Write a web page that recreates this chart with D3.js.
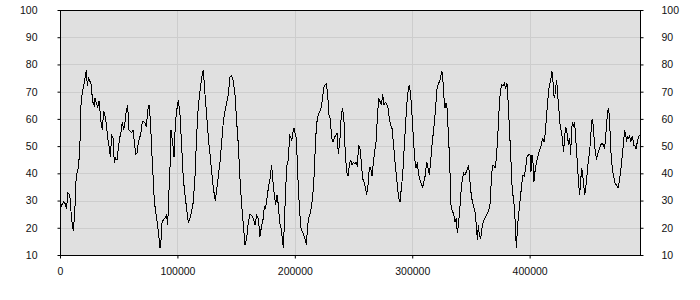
<!DOCTYPE html>
<html>
<head>
<meta charset="utf-8">
<script src="https://cdn.jsdelivr.net/npm/d3@7"></script>
<style>
  body { margin: 0; background: #fff; }
  svg text { font-family: "Liberation Sans", Arial, sans-serif; font-size: 10.5px; fill: #111; }
</style>
</head>
<body>
<div id="chart"></div>
<script>
// sample positions (x) and values (y)
const xs = [
  0, 1420, 2840, 4260, 5680, 6530, 7670, 8520, 9370, 10500, 11360, 11920, 12780, 13340, 14480,
  15610, 16750, 17320, 17890, 19020, 20160, 21290, 22430, 23280, 24130, 25270, 26400, 26970, 28110,
  29240, 29810, 30940, 32080, 33220, 34070, 34920, 36050, 37190, 38330, 39460, 40600, 41730, 42870,
  44000, 45140, 46280, 47410, 48550, 49680, 50820, 51950, 53090, 54230, 55360, 56500, 57630, 58770,
  59900, 61040, 62170, 63310, 64450, 65580, 66720, 67850, 68990, 70120, 71260, 72390, 73530, 74660,
  75800, 76940, 78070, 79210, 80340, 82330, 83750, 85170, 86020, 86870, 88010, 89430, 90850, 91700,
  92550, 93690, 94540, 95390, 96530, 97100, 98230, 99370, 100790, 102200, 103620, 105040, 106460,
  107880, 109300, 110720, 112140, 113560, 114980, 116400, 117820, 119240, 120660, 122080, 123500,
  124920, 126340, 127760, 129180, 130600, 132300, 133440, 134860, 136270, 137690, 139110, 140530,
  141950, 143370, 144790, 146210, 147630, 149050, 150470, 151890, 153310, 154730, 156150, 157560,
  158980, 160400, 161820, 163240, 164660, 166080, 167500, 168920, 170340, 171760, 173180, 174030,
  175170, 176300, 177440, 178860, 180280, 181410, 182550, 183680, 184820, 185960, 187090, 188230,
  189360, 190220, 191070, 192200, 193340, 194480, 195610, 196460, 197310, 198450, 199300, 200150,
  201290, 202140, 202990, 204130, 205260, 206400, 207540, 208670, 209810, 210940, 212080, 213220,
  214350, 215490, 216620, 217760, 218890, 220030, 221170, 222300, 223440, 224570, 225710, 226840,
  227980, 229110, 230250, 231390, 232520, 233660, 234790, 235930, 237060, 238340, 239610, 240750,
  241880, 243020, 244160, 245290, 246430, 247560, 248700, 249840, 250970, 252110, 253240, 254380,
  255510, 256650, 257790, 258920, 260060, 261190, 262330, 263460, 264600, 265740, 266870, 268010,
  269140, 270280, 271410, 272550, 273690, 274820, 275960, 277090, 278230, 279370, 280500, 281640,
  282770, 283910, 285050, 286180, 287320, 288450, 289590, 290720, 291860, 293000, 294130, 295270,
  296400, 297540, 298680, 299810, 300950, 302080, 303220, 304350, 305490, 306630, 307760, 308900,
  310030, 311170, 312300, 313440, 314580, 315710, 316850, 317980, 319120, 320240, 321090, 322230,
  323370, 324500, 325350, 326200, 327060, 327910, 328760, 329610, 330740, 331880, 333020, 334150,
  335290, 336420, 337560, 338410, 339270, 340400, 341540, 342670, 343810, 344940, 346080, 347220,
  348070, 348920, 350050, 351190, 352330, 353460, 354600, 355450, 356300, 357150, 358280, 359420,
  360550, 361970, 363390, 364810, 366230, 367650, 368500, 369350, 370490, 371620, 372760, 373890,
  375030, 376170, 377300, 378440, 379570, 380710, 381850, 382980, 384120, 385250, 386390, 387530,
  388660, 389800, 390930, 392070, 393210, 394340, 395480, 396610, 397750, 398880, 400300, 401150,
  402000, 402860, 403710, 404560, 405410, 406550, 407690, 408820, 409960, 411090, 412230, 413360,
  414500, 415640, 416770, 417910, 419040, 419610, 420460, 421310, 422160, 423020, 423870, 424720,
  425570, 426420, 427270, 428120, 428970, 429830, 430680, 431530, 432380, 433230, 434080, 434930,
  435780, 436640, 437490, 438340, 439190, 440040, 440890, 441740, 442590, 443450, 444300, 445150,
  446000, 446850, 447700, 448550, 449400, 450260, 451110, 451960, 452810, 453660, 454510, 455360,
  456210, 457070, 458200, 459340, 460470, 461610, 462750, 463880, 465020, 466150, 467010, 467860,
  468710, 469560, 470410, 471260, 472120, 472970, 474100, 475240, 476380, 477510, 478650, 479780,
  480920, 481770, 482630, 483480, 484330, 485180, 486030, 486880, 487730, 488590, 489720, 490570,
  491710, 492840, 494000
];
const ys = [
  30, 28, 29.5, 29, 27, 33, 32.5, 31, 26, 21, 19, 22, 28, 36, 40,
  42, 48, 55, 65, 70, 72, 75, 78, 72, 75, 74, 73, 70, 66,
  65, 67.5, 66, 64, 66.5, 63, 59, 56, 63, 61, 58, 53, 50, 46,
  54, 53, 44, 45.5, 45, 49, 53, 55, 59, 56, 59, 63, 65, 56,
  55.5, 55, 56, 51.5, 47, 47.5, 51.5, 53, 55, 59, 59, 58.5, 57, 63,
  65, 60, 49, 39.5, 29.6, 23.5, 18.6, 12.5, 15.5, 21.6, 23, 23.5, 24.7, 21,
  30.8, 42, 56, 53, 49, 46, 58, 63, 67, 61.5, 50, 38, 32,
  27, 21.7, 23.5, 26, 29.6, 39, 54, 65, 70, 75, 78, 69,
  61.5, 53, 47, 40.6, 34.5, 30, 34, 39, 44, 51.5, 59, 63,
  66, 69, 75.5, 76, 73.7, 69, 59, 50.4, 38, 28.4, 21, 13.7,
  16, 22, 25, 24.5, 23.5, 21, 24.7, 23.5, 16.8, 21, 23.5, 27.8,
  27.2, 31, 34.5, 38, 43, 37, 32, 28.4, 32, 28.4, 22, 19.8,
  16, 12.5, 21, 34.5, 43, 45, 54, 53.5, 52, 55, 56.5, 55,
  53, 44, 34.5, 26, 19.8, 18.6, 17.4, 16, 13.7, 21, 24, 25.3,
  28.4, 33, 40.6, 53, 59, 61.5, 62.7, 64, 67, 71.3, 72.5, 73,
  68.8, 61.5, 60, 53, 51.5, 53, 54, 54.7, 47, 52, 61.5, 64,
  59, 47, 40.6, 39, 43, 45, 43, 44, 43.5, 44, 43, 50.4,
  49, 44, 38, 37, 35, 32, 35.7, 42, 42, 39, 44, 48,
  51.5, 60, 67.6, 66.4, 65, 69, 65, 66, 65.5, 64, 60, 57.8,
  56.5, 51.5, 45.5, 40.6, 35.7, 30.8, 29.6, 34.5, 39.4, 48, 56.5, 65,
  70, 72.5, 68.8, 61.5, 53, 45.5, 42, 44, 39.4, 37.6, 36, 35,
  37, 39.4, 44.3, 42, 39.4, 44.3, 50.4, 55, 60, 66, 71, 73,
  73.7, 76, 77.4, 73.7, 67.6, 64, 65.7, 64, 55, 44.3, 28.4, 26,
  25.3, 22, 23.5, 18, 21, 26, 33, 38, 40, 39.4, 40.6, 42,
  43, 38, 33, 29.6, 27.8, 26, 21, 15.5, 21, 17.4, 16, 20,
  22.3, 23.5, 24.7, 26, 28.4, 39.4, 43, 43, 42, 45.5, 53, 62.7,
  70, 72.5, 72, 73, 71.3, 73, 65, 55, 44.3, 33, 30.8, 23.5,
  12.5, 21, 26, 30.8, 35.7, 39.4, 39, 42, 46, 46.7, 47, 40.6,
  46.7, 44, 37, 40.6, 43, 45.5, 47.4, 49, 50.4, 53, 51.5, 55,
  61.5, 67.6, 72.5, 74, 77.4, 76, 68.8, 67.6, 71.3, 74.3, 68.8, 65,
  59, 56.5, 55, 51.5, 48, 53.5, 57, 56, 53, 50.4, 53, 46.7,
  56.5, 59, 57, 59, 53, 48, 42, 36, 32, 37, 42, 39.4,
  36, 32, 34.5, 38, 42, 45.5, 48, 53, 59, 60, 55, 50.4,
  46.7, 45.5, 47.4, 49, 50.4, 51, 50.4, 49, 55, 61.5, 64, 61.5,
  53, 45.5, 42, 39.4, 38, 36, 35.7, 34.5, 37, 40.6, 45.5, 50.4,
  56, 54, 52.3, 53.5, 53, 54, 51.5, 53, 53.5, 50.4, 50, 49,
  51.5, 53.5, 54
];
const xTicks = [0, 100000, 200000, 300000, 400000];
const yTicks = [10, 20, 30, 40, 50, 60, 70, 80, 90, 100];

const width = 700, height = 300;
const margin = { top: 10, right: 60, bottom: 45, left: 60 };
const innerW = width - margin.left - margin.right;
const innerH = height - margin.top - margin.bottom;

const svg = d3.select("#chart").append("svg")
  .attr("width", width)
  .attr("height", height);

const x = d3.scaleLinear().domain([0, 494000]).range([0, innerW]);
const y = d3.scaleLinear().domain([10, 100]).range([innerH, 0]);

const g = svg.append("g")
  .attr("transform", `translate(${margin.left},${margin.top})`);

// plot background
g.append("rect")
  .attr("width", innerW)
  .attr("height", innerH)
  .style("fill", "#e0e0e0");

// grid
g.selectAll(".hgrid")
  .data(yTicks.slice(1, -1))
  .enter().append("line")
  .attr("x1", 0).attr("x2", innerW)
  .attr("y1", d => Math.round(y(d)) + 0.5)
  .attr("y2", d => Math.round(y(d)) + 0.5)
  .style("stroke", "#cdcdcd");

g.selectAll(".vgrid")
  .data(xTicks.slice(1))
  .enter().append("line")
  .attr("y1", 0).attr("y2", innerH)
  .attr("x1", d => Math.round(x(d)) + 0.5)
  .attr("x2", d => Math.round(x(d)) + 0.5)
  .style("stroke", "#cdcdcd");

// data line (aliased like the original)
const line = d3.line()
  .x((d, i) => x(xs[i]))
  .y(d => y(d));

g.append("path")
  .datum(ys)
  .attr("d", line)
  .style("fill", "none")
  .style("stroke", "#000")
  .style("stroke-width", 1)
  .style("shape-rendering", "crispEdges");

// frame
g.append("rect")
  .attr("x", 0.5).attr("y", 0.5)
  .attr("width", innerW).attr("height", innerH)
  .style("fill", "none")
  .style("stroke", "#000");

// axes
const yLeft = d3.axisLeft(y).tickValues(yTicks).tickSize(3).tickPadding(20);
const yRight = d3.axisRight(y).tickValues(yTicks).tickSize(3).tickPadding(18);
const xBottom = d3.axisBottom(x).tickValues(xTicks).tickSize(3).tickPadding(9)
  .tickFormat(d3.format("d"));

g.append("g").attr("transform", "translate(0.5,0)").call(yLeft);
g.append("g").attr("transform", `translate(${innerW + 0.5},0)`).call(yRight);
g.append("g").attr("transform", `translate(0,${innerH + 0.5})`).call(xBottom);

svg.selectAll(".domain").remove();
svg.selectAll(".tick line").style("stroke", "#000");
svg.selectAll(".tick text").style("fill", "#111");
</script>
</body>
</html>
